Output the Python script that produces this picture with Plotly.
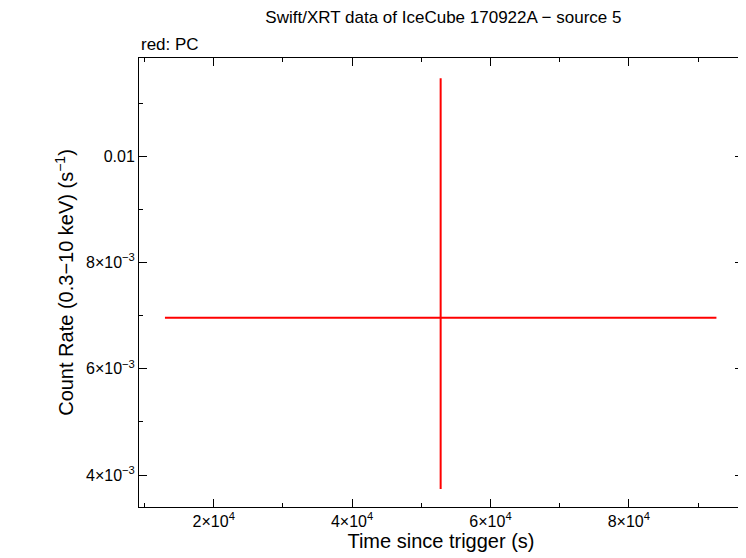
import plotly.graph_objects as go

# single PC-mode bin
time_s = [52800]
time_err_minus = [39850]
time_err_plus = [39860]
rate = [0.00696]
rate_err_plus = [0.00451]
rate_err_minus = [0.00322]

xtick_vals = [20000, 40000, 60000, 80000]
xtick_text = ["2×10<sup>4</sup>", "4×10<sup>4</sup>", "6×10<sup>4</sup>", "8×10<sup>4</sup>"]
ytick_vals = [0.004, 0.006, 0.008, 0.01]
ytick_text = ["4×10<sup>−3</sup>", "6×10<sup>−3</sup>", "8×10<sup>−3</sup>", "0.01"]

fig = go.Figure(go.Scatter(
    x=time_s, y=rate, mode="markers",
    marker=dict(size=1, color="red"),
    error_x=dict(type="data", symmetric=False, array=time_err_plus,
                 arrayminus=time_err_minus, color="red", thickness=2, width=0),
    error_y=dict(type="data", symmetric=False, array=rate_err_plus,
                 arrayminus=rate_err_minus, color="red", thickness=2, width=0),
    showlegend=False,
))

axis_common = dict(showgrid=False, zeroline=False, showline=True, linecolor="black",
                   linewidth=1, mirror="allticks", ticks="inside", ticklen=8,
                   tickcolor="black", tickfont=dict(size=16))
fig.update_xaxes(range=[9200, 96500], tickvals=xtick_vals, ticktext=xtick_text,
                 title=dict(text="Time since trigger (s)", standoff=2),
                 minor=dict(dtick=10000, tick0=0, ticks="inside", ticklen=4, tickcolor="black"),
                 **axis_common)
fig.update_yaxes(range=[0.0034, 0.01185], tickvals=ytick_vals, ticktext=ytick_text,
                 title=dict(text="Count Rate (0.3−10 keV) (s<sup>−1</sup>)", standoff=6),
                 minor=dict(dtick=0.001, tick0=0, ticks="inside", ticklen=4, tickcolor="black"),
                 **axis_common)

fig.update_layout(
    width=738, height=550,
    margin=dict(l=131, r=3, t=50, b=51),
    plot_bgcolor="white", paper_bgcolor="white",
    font=dict(family="Liberation Sans, Arial, sans-serif", size=17, color="black"),
    title=dict(text="Swift/XRT data of IceCube 170922A − source 5", x=0.59, xanchor="center",
               y=0.995, yanchor="top", font=dict(size=17)),
    annotations=[dict(text="red: PC", xref="paper", yref="paper", x=0, y=1.005,
                      xanchor="left", yanchor="bottom", showarrow=False, font=dict(size=17))],
)

fig.write_html("out.html")
